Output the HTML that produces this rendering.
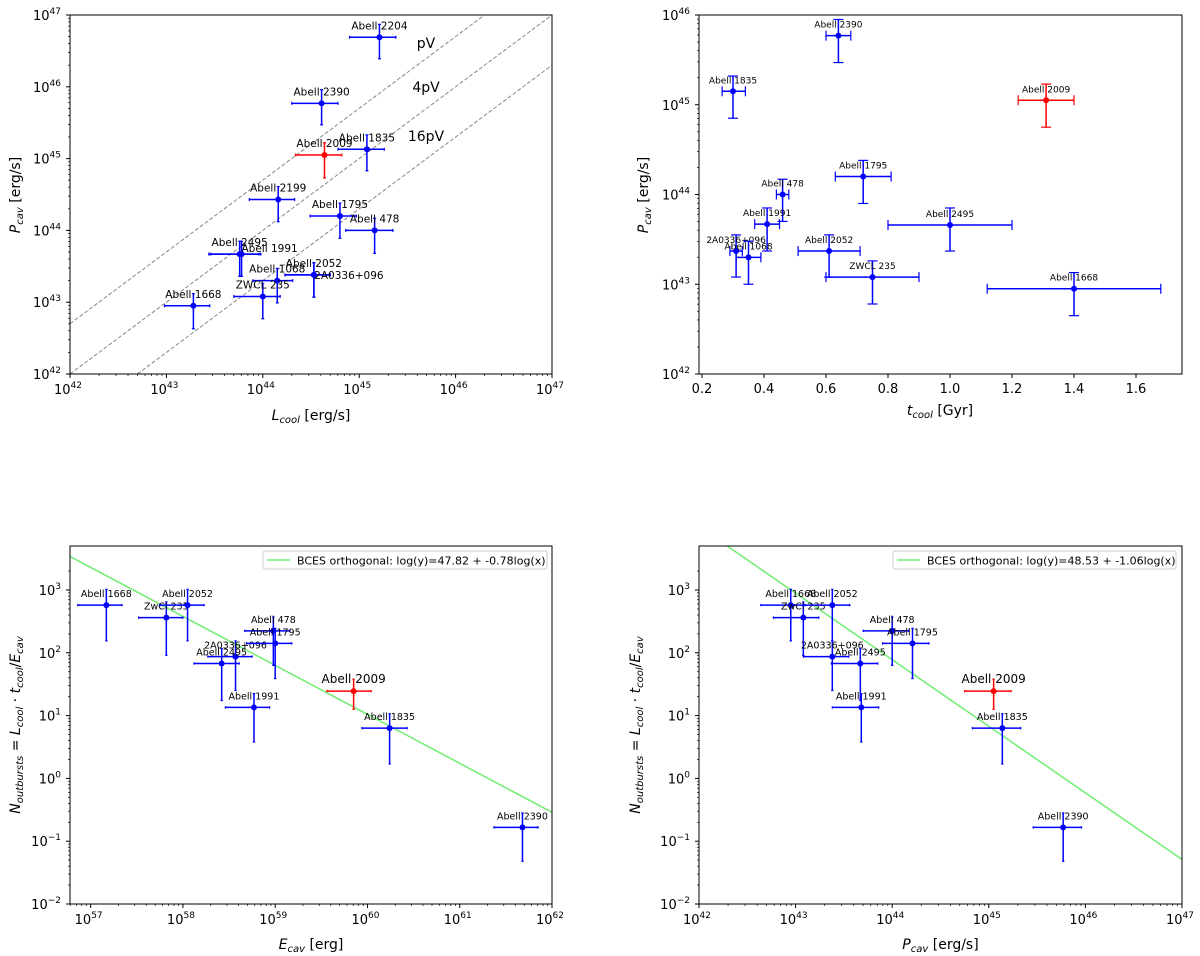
<!DOCTYPE html>
<html><head><meta charset="utf-8">
<style>
html,body{margin:0;padding:0;background:#fff;}
svg{display:block;font-family:"DejaVu Sans","Liberation Sans",sans-serif;}
</style></head>
<body>
<svg id="fig" width="1200" height="956" viewBox="0 0 1200 956" xmlns="http://www.w3.org/2000/svg"></svg>
<script>
// ---------- Panel 1: P_cav vs L_cool (log10 values) ----------
const p1Names = ["Abell 2204","Abell 2390","Abell 2009","Abell 1835","Abell 2199","Abell 1795","Abell 478","Abell 2495","Abell 1991","Abell 1068","Abell 2052","2A0336+096","ZWCL 235","Abell 1668"];
const p1LogL  = [45.21,44.61,44.64,45.08,44.16,44.80,45.16,43.76,43.78,44.15,44.53,44.53,44.00,43.28];
const p1LogLlo= [44.90,44.30,44.34,44.78,43.86,44.49,44.86,43.44,43.46,43.90,44.23,44.23,43.70,42.98];
const p1LogLhi= [45.38,44.78,44.82,45.26,44.33,44.97,45.35,43.96,43.98,44.31,44.70,44.70,44.18,43.45];
const p1LogP  = [46.69,45.77,45.05,45.13,44.43,44.20,44.00,43.67,43.67,43.30,43.38,43.38,43.08,42.95];
const p1LogPlo= [46.39,45.47,44.73,44.83,44.12,43.89,43.68,43.36,43.36,42.99,43.07,43.07,42.77,42.63];
const p1LogPhi= [46.87,45.96,45.22,45.33,44.61,44.38,44.17,43.85,43.85,43.47,43.55,43.55,43.26,43.12];
const p1LineOffsets = [0.7, 0.0, -0.7];
const p1LineLabels = ["pV","4pV","16pV"];
const p1TickExp = [42,43,44,45,46,47];

// ---------- Panel 2: P_cav vs t_cool ----------
const p2Names = ["Abell 2390","Abell 1835","Abell 2009","Abell 1795","Abell 478","Abell 1991","Abell 2495","2A0336+096","Abell 1068","Abell 2052","ZWCL 235","Abell 1668"];
const p2T    = [0.64,0.30,1.31,0.72,0.46,0.41,1.00,0.31,0.35,0.61,0.75,1.40];
const p2Tlo  = [0.60,0.265,1.22,0.63,0.44,0.37,0.80,0.29,0.31,0.51,0.60,1.12];
const p2Thi  = [0.68,0.34,1.40,0.81,0.48,0.45,1.20,0.33,0.39,0.71,0.90,1.68];
const p2LogP = [45.77,45.15,45.05,44.20,44.00,43.67,43.66,43.37,43.30,43.37,43.08,42.95];
const p2LogPlo=[45.47,44.85,44.75,43.90,43.70,43.37,43.37,43.08,43.00,43.08,42.78,42.65];
const p2LogPhi=[45.95,45.32,45.23,44.38,44.17,43.85,43.85,43.55,43.48,43.55,43.26,43.13];
const p2XTicks = [0.2,0.4,0.6,0.8,1.0,1.2,1.4,1.6];
const p2YTickExp = [42,43,44,45,46];

// ---------- Panel 3: N vs E_cav ----------
const p3Names = ["Abell 1668","ZwCl 235","Abell 2052","2A0336+096","Abell 2495","Abell 478","Abell 1795","Abell 1991","Abell 2009","Abell 1835","Abell 2390"];
const p3LogE  = [57.17,57.82,58.05,58.57,58.42,58.98,59.00,58.77,59.85,60.24,61.68];
const p3LogElo= [56.86,57.52,57.75,58.27,58.12,58.67,58.69,58.46,59.56,59.94,61.37];
const p3LogEhi= [57.34,58.00,58.23,58.75,58.61,59.16,59.18,58.94,60.04,60.43,61.85];
const p3LogN  = [2.76,2.56,2.76,1.94,1.83,2.35,2.15,1.13,1.39,0.80,-0.78];
const p3LogNlo= [2.19,1.96,2.19,1.40,1.24,1.80,1.59,0.58,1.10,0.23,-1.32];
const p3LogNhi= [3.01,2.81,3.01,2.19,2.07,2.57,2.39,1.35,1.58,1.03,-0.55];
const p3Fit = [47.82, -0.78];
const p3XTickExp = [57,58,59,60,61,62];
const nYTickExp = [-2,-1,0,1,2,3];

// ---------- Panel 4: N vs P_cav ----------
const p4Names = ["Abell 1668","ZwCl 235","Abell 2052","2A0336+096","Abell 2495","Abell 478","Abell 1795","Abell 1991","Abell 2009","Abell 1835","Abell 2390"];
const p4LogP  = [42.95,43.08,43.38,43.38,43.67,44.00,44.21,43.68,45.05,45.14,45.77];
const p4LogPlo= [42.64,42.77,43.08,43.08,43.37,43.70,43.90,43.38,44.75,44.83,45.46];
const p4LogPhi= [43.10,43.24,43.56,43.55,43.85,44.17,44.38,43.86,45.23,45.33,45.96];
const p4LogN  = [2.76,2.56,2.76,1.94,1.83,2.35,2.15,1.13,1.39,0.80,-0.78];
const p4LogNlo= [2.19,1.96,2.19,1.40,1.24,1.80,1.59,0.58,1.10,0.23,-1.32];
const p4LogNhi= [3.01,2.81,3.01,2.19,2.07,2.57,2.39,1.35,1.58,1.03,-0.55];
const p4Fit = [48.53, -1.06];
const p4XTickExp = [42,43,44,45,46,47];

const NS = "http://www.w3.org/2000/svg";
const fig = document.getElementById('fig');
function mk(tag, attrs, parent){
  const e = document.createElementNS(NS, tag);
  for (const k in attrs) e.setAttribute(k, attrs[k]);
  (parent||fig).appendChild(e);
  return e;
}
function lin(d0,d1,r0,r1){ return v => r0 + (v-d0)*(r1-r0)/(d1-d0); }

function frame(g, x0,y0,x1,y1){
  const r = mk('rect',{x:x0,y:y0,width:x1-x0,height:y1-y0,fill:'none',stroke:'#000','stroke-width':1},g);
  
  
}
function powLabel(g, x, y, exp, anchor){
  const t = mk('text',{x:x,y:y,'font-size':13,'text-anchor':anchor,fill:'#000'},g);
  
  
  t.textContent = '10';
  const s = mk('tspan',{dy:-6,'font-size':9},t);
  s.textContent = String(exp).replace('-','\u2212');
}
function logXAxis(g, sx, lo, hi, yb, exps){
  for (let d=Math.floor(lo); d<=Math.ceil(hi); d++){
    for (let k=1;k<=9;k++){
      const v = d + Math.log10(k);
      if (v<lo-1e-9||v>hi+1e-9) continue;
      const x = sx(v), len = k===1?4:2;
      const tk = mk('line',{x1:x,x2:x,y1:yb,y2:yb+len,stroke:'#000','stroke-width':k===1?1:0.7},g);
      
      
    }
  }
  exps.forEach(e => powLabel(g, sx(e)-2, yb+20, e, 'middle'));
}
function logYAxis(g, sy, lo, hi, xl, exps){
  for (let d=Math.floor(lo); d<=Math.ceil(hi); d++){
    for (let k=1;k<=9;k++){
      const v = d + Math.log10(k);
      if (v<lo-1e-9||v>hi+1e-9) continue;
      const y = sy(v), len = k===1?4:2;
      const tk = mk('line',{x1:xl-len,x2:xl,y1:y,y2:y,stroke:'#000','stroke-width':k===1?1:0.7},g);
      
      
    }
  }
  exps.forEach(e => powLabel(g, xl-9, sy(e)+5, e, 'end'));
}
function errPoint(g, x, y, xl, xh, yl, yh, color, cap, name, label, fs, ldx, ldy){
  const pg = mk('g',{},g);
  
  
  mk('line',{x1:xl,x2:xh,y1:y,y2:y,stroke:color,'stroke-width':1.5},pg);
  mk('line',{x1:x,x2:x,y1:yl,y2:yh,stroke:color,'stroke-width':1.5},pg);
  if (cap>0){
    mk('line',{x1:xl,x2:xl,y1:y-cap,y2:y+cap,stroke:color,'stroke-width':1.2},pg);
    mk('line',{x1:xh,x2:xh,y1:y-cap,y2:y+cap,stroke:color,'stroke-width':1.2},pg);
    mk('line',{x1:x-cap,x2:x+cap,y1:yl,y2:yl,stroke:color,'stroke-width':1.2},pg);
    mk('line',{x1:x-cap,x2:x+cap,y1:yh,y2:yh,stroke:color,'stroke-width':1.2},pg);
  }
  mk('circle',{cx:x,cy:y,r:3,fill:color},pg);
  const t = mk('text',{x:x+(ldx||0),y:y-8+(ldy||0),'font-size':fs,'text-anchor':'middle',fill:'#000'},g);
  
  
  t.textContent = label;
}
function axisTitle(g, x, y, parts, rotate, name){
  const t = mk('text',{x:x,y:y,'font-size':14,'text-anchor':'middle',fill:'#000'},g);
  if (rotate) t.setAttribute('transform','rotate(-90 '+x+' '+y+')');
  
  
  parts.forEach(p=>{
    const s = mk('tspan',p.sub?{'font-size':10,'font-style':'italic',dy:3}:(p.it?{'font-style':'italic'}:{}),t);
    if (p.after) s.setAttribute('dy',-3);
    s.textContent = p.t;
  });
  return t;
}

// ===== Panel 1 =====
(function(){
  const g = mk('g',{});  
  const X0=70,X1=552,Y0=15,Y1=374;
  const sx = lin(42,47,X0,X1), sy = lin(42,47,Y1,Y0);
  const clip = mk('clipPath',{id:'c1'},g); mk('rect',{x:X0,y:Y0,width:X1-X0,height:Y1-Y0},clip);
  const lg = mk('g',{'clip-path':'url(#c1)'},g);
  p1LineOffsets.forEach((o,i)=>{
    const l = mk('line',{x1:sx(42),y1:sy(42+o),x2:sx(47),y2:sy(47+o),stroke:'#888','stroke-width':1,'stroke-dasharray':'4,2'},lg);
    
    
  });
  [[426,48],[426,92],[426,141]].forEach((p,i)=>{
    const t = mk('text',{x:p[0],y:p[1],'font-size':14,'text-anchor':'middle'},g);
    
    
    t.textContent = p1LineLabels[i];
  });
  const ldx = {"Abell 1991":28,"2A0336+096":35};
  const ldy = {"Abell 1991":6,"2A0336+096":12};
  p1Names.forEach((n,i)=>{
    errPoint(g, sx(p1LogL[i]), sy(p1LogP[i]), sx(p1LogLlo[i]), sx(p1LogLhi[i]), sy(p1LogPlo[i]), sy(p1LogPhi[i]),
      n==="Abell 2009"?'#ff0000':'#0000ff', 1.5, n, n, 10.5, ldx[n]||0, ldy[n]||0);
  });
  frame(g,X0,Y0,X1,Y1);
  logXAxis(g,sx,42,47,Y1,p1TickExp);
  logYAxis(g,sy,42,47,X0,p1TickExp);
  axisTitle(g,311,420,[{t:'L',it:1},{t:'cool',sub:1},{t:' [erg/s]',after:1}],false,'x-axis-title');
  axisTitle(g,20,195,[{t:'P',it:1},{t:'cav',sub:1},{t:' [erg/s]',after:1}],true,'y-axis-title');
})();

// ===== Panel 2 =====
(function(){
  const g = mk('g',{});  
  const X0=699,X1=1182,Y0=15,Y1=374;
  const sx = lin(0.2,1.6,702,1136), sy = lin(42,46,Y1,Y0);
  p2Names.forEach((n,i)=>{
    errPoint(g, sx(p2T[i]), sy(p2LogP[i]), sx(p2Tlo[i]), sx(p2Thi[i]), sy(p2LogPlo[i]), sy(p2LogPhi[i]),
      n==="Abell 2009"?'#ff0000':'#0000ff', 5, n, n, 9, 0, 0);
  });
  frame(g,X0,Y0,X1,Y1);
  p2XTicks.forEach(v=>{
    const x = sx(v);
    const tk = mk('line',{x1:x,x2:x,y1:Y1,y2:Y1+4,stroke:'#000'},g);
     
    const t = mk('text',{x:x,y:Y1+19,'font-size':13,'text-anchor':'middle'},g);
     
    t.textContent = v.toFixed(1);
  });
  logYAxis(g,sy,42,46,X0,p2YTickExp);
  axisTitle(g,940,415,[{t:'t',it:1},{t:'cool',sub:1},{t:' [Gyr]',after:1}],false,'x-axis-title');
  axisTitle(g,648,195,[{t:'P',it:1},{t:'cav',sub:1},{t:' [erg/s]',after:1}],true,'y-axis-title');
})();

function nPanel(name, X0, X1, xlo, xhi, names, lx, lxlo, lxhi, ly, lylo, lyhi, fit, xexps, legendX, legendW, xTitleParts, ylabX, cid){
  const g = mk('g',{});  
  const Y0=546,Y1=904;
  const sx = lin(xlo,xhi,X0,X1), sy = lin(-2,3,Y1,590);
  const clip = mk('clipPath',{id:cid},g); mk('rect',{x:X0,y:Y0,width:X1-X0,height:Y1-Y0},clip);
  const lg = mk('g',{'clip-path':'url(#'+cid+')'},g);
  const fl = mk('line',{x1:sx(xlo),y1:sy(fit[0]+fit[1]*xlo),x2:sx(xhi),y2:sy(fit[0]+fit[1]*xhi),stroke:'#77ee77','stroke-width':1.6},lg);
   
  names.forEach((n,i)=>{
    const is09 = n==="Abell 2009";
    errPoint(g, sx(lx[i]), sy(ly[i]), sx(lxlo[i]), sx(lxhi[i]), sy(lylo[i]), sy(lyhi[i]),
      is09?'#ff0000':'#0000ff', 1.2, n, n, is09?12:9.5, 0, 0);
  });
  frame(g,X0,Y0,X1,Y1);
  logXAxis(g,sx,xlo,xhi,Y1,xexps);
  logYAxis(g,sy,-2,Math.log10(5000)-0.3,X0,nYTickExp);
  const leg = mk('g',{},g);  
  mk('rect',{x:legendX,y:551,width:legendW,height:18,fill:'#fff',stroke:'#ccc','stroke-width':1,rx:2},leg);
  mk('line',{x1:legendX+4,x2:legendX+27,y1:560,y2:560,stroke:'#77ee77','stroke-width':1.6},leg);
  const lt = mk('text',{x:legendX+34,y:564.5,'font-size':11},leg);
   
  lt.textContent = 'BCES orthogonal: log(y)=' + fit[0].toFixed(2) + ' + ' + fit[1].toFixed(2) + 'log(x)';
  axisTitle(g,(X0+X1)/2,949,xTitleParts,false,'x-axis-title');
  const yt = mk('text',{x:ylabX,y:725,'font-size':14,'text-anchor':'middle',transform:'rotate(-90 '+ylabX+' 725)'},g);
   
  const seq = [['N','i'],['outbursts','s'],[' = ',''],['L','i'],['cool','s'],[' \u00b7 ',''],['t','i'],['cool','s'],['/',''],['E','i'],['cav','s']];
  let sub=false;
  seq.forEach(p=>{
    const a = {};
    if (p[1]==='i') a['font-style']='italic';
    if (p[1]==='s'){ a['font-size']=10; a['font-style']='italic'; if(!sub){a.dy=3; sub=true;} }
    else if (sub){ a.dy=-3; sub=false; }
    const s = mk('tspan',a,yt); s.textContent = p[0];
  });
}
nPanel('panel-n-vs-ecav',70,552,56.776,62.0,p3Names,p3LogE,p3LogElo,p3LogEhi,p3LogN,p3LogNlo,p3LogNhi,p3Fit,p3XTickExp,263,284,
  [{t:'E',it:1},{t:'cav',sub:1},{t:'  [erg]',after:1}],20,'c3');
nPanel('panel-n-vs-pcav',699,1182,42,47,p4Names,p4LogP,p4LogPlo,p4LogPhi,p4LogN,p4LogNlo,p4LogNhi,p4Fit,p4XTickExp,893,283,
  [{t:'P',it:1},{t:'cav',sub:1},{t:'  [erg/s]',after:1}],640,'c4');
</script>
</body></html>
